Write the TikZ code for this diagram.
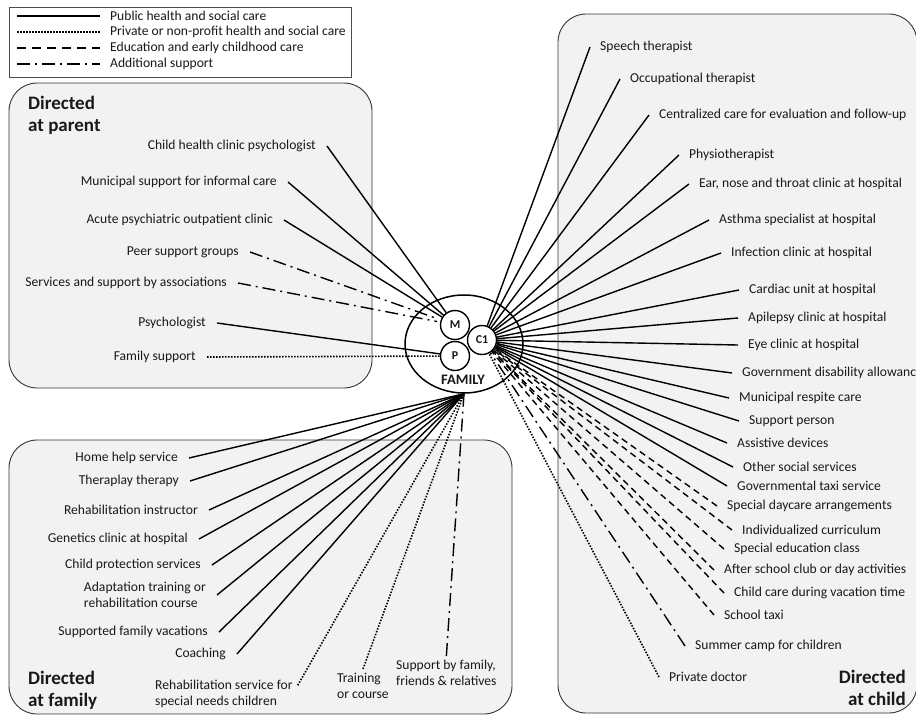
\documentclass[tikz,border=0pt]{standalone}
\usepackage{fontspec}
\setmainfont{Carlito}
\usetikzlibrary{shapes.geometric}
\begin{document}
\begin{tikzpicture}[x=1pt,y=-1pt,
  every node/.style={font=\fontsize{13.6}{15.5}\selectfont, text=black!90},
  lblE/.style={anchor=east, inner xsep=11pt, inner ysep=1pt},
  lblW/.style={anchor=west, inner xsep=10pt, inner ysep=1pt},
  conn/.style={line width=1.4pt, line cap=butt},
  pub/.style={conn},
  priv/.style={conn, line width=1.6pt, dash pattern=on 1.5pt off 1.5pt},
  edu/.style={conn, dash pattern=on 6.5pt off 4.5pt},
  addl/.style={conn, dash pattern=on 13pt off 5pt on 2pt off 5pt},
  area/.style={draw=black!80, fill=black!5, line width=0.9pt, rounded corners=28pt},
  head/.style={font=\fontsize{19}{22}\selectfont\bfseries, inner sep=0pt, align=left},
  circ/.style={circle, draw, line width=1.4pt, fill=white, minimum size=29pt, inner sep=0pt, font=\fontsize{12}{13}\selectfont\bfseries},
  legtext/.style={anchor=west, inner sep=0pt, font=\fontsize{13.6}{15}\selectfont}
]
\fill[white] (0,0) rectangle (916,715);
\useasboundingbox (0,0) rectangle (916,715);

% areas
\draw[area] (9,83) rectangle (372,388);
\draw[area] (558,14) rectangle (917,713);
\draw[area] (9,440) rectangle (512,714);

% legend
\draw[black!70, line width=0.8pt] (9,7) rectangle (351,77);
\draw[pub, line width=1.8pt] (17,16) -- (100,16);
\draw[priv, line width=1.5pt] (17,32) -- (100,32);
\draw[edu, line width=1.8pt, dash pattern=on 9pt off 6pt] (17,48) -- (100,48);
\draw[addl, line width=1.8pt] (17,64) -- (100,64);
\node[legtext] (lg1) at (110,16) {Public health and social care};
\node[legtext] (lg2) at (110,32) {Private or non-profit health and social care};
\node[legtext] (lg3) at (110,48) {Education and early childhood care};
\node[legtext] (lg4) at (110,64) {Additional support};

% headings
\node[head, anchor=north west] (hpar) at (28,96) {Directed\\at parent};
\node[head, anchor=south west] (hfam) at (28,710) {Directed\\at family};
\node[head, anchor=south east, align=right] (hchi) at (906,706) {Directed\\at child};

% family
\node[ellipse, draw, line width=1.5pt, minimum width=118pt, minimum height=98pt, inner sep=0pt] (fam) at (464,344) {};
\node[inner sep=0pt, font=\fontsize{14.5}{15}\selectfont\bfseries] (famt) at (463,380) {FAMILY};
\node[circ] (m) at (455,325) {M};
\node[circ] (p) at (455,356) {P};
\node[circ] (c) at (482,340) {C1};

% parent labels
\node[lblE] (cp) at (327,146) {Child health clinic psychologist};
\node[lblE] (ms) at (288,182) {Municipal support for informal care};
\node[lblE] (ap) at (284,220) {Acute psychiatric outpatient clinic};
\node[lblE] (ps) at (250,252) {Peer support groups};
\node[lblE] (sa) at (238,283) {Services and support by associations};
\node[lblE] (py) at (217,323) {Psychologist};
\node[lblE] (fs) at (207,357) {Family support};
\draw[pub] (cp.east) -- (m);
\draw[pub] (ms.east) -- (m);
\draw[pub] (ap.east) -- (m);
\draw[addl, shorten >=3pt] (ps.east) -- (m);
\draw[addl, shorten >=3pt] (sa.east) -- (m);
\draw[pub] (py.east) -- (p);
\draw[priv] (fs.east) -- (p);

% child labels
\node[lblW] (st) at (590,47) {Speech therapist};
\node[lblW] (ot) at (620,79) {Occupational therapist};
\node[lblW] (cc) at (649,115) {Centralized care for evaluation and follow-up};
\node[lblW] (ph) at (679,155) {Physiotherapist};
\node[lblW] (en) at (689,184) {Ear, nose and throat clinic at hospital};
\node[lblW] (ah) at (709,220) {Asthma specialist at hospital};
\node[lblW] (ic) at (721,253) {Infection clinic at hospital};
\node[lblW] (cu) at (739,290) {Cardiac unit at hospital};
\node[lblW] (ac) at (738,318) {Apilepsy clinic at hospital};
\node[lblW] (ec) at (738,345) {Eye clinic at hospital};
\node[lblW] (gd) at (732,373) {Government disability allowanc};
\node[lblW] (mr) at (729,398) {Municipal respite care};
\node[lblW] (sp) at (739,421) {Support person};
\node[lblW] (ad) at (727,443) {Assistive devices};
\node[lblW] (os) at (733,467) {Other social services};
\node[lblW] (gt) at (727,486) {Governmental taxi service};
\node[lblW] (sd) at (717,506) {Special daycare arrangements};
\node[lblW] (iu) at (732,530) {Individualized curriculum};
\node[lblW] (se) at (724,549) {Special education class};
\node[lblW] (ak) at (714,570) {After school club or day activities};
\node[lblW] (cv) at (724,593) {Child care during vacation time};
\node[lblW] (sx) at (714,615) {School taxi};
\node[lblW] (sc) at (685,646) {Summer camp for children};
\node[lblW] (pd) at (659,677) {Private doctor};
\foreach \n in {st,ot,cc,ph,en,ah,ic,cu,ac,ec,gd,mr,sp,ad,os,gt}
  \draw[pub] (\n.west) -- (c);
\foreach \n in {sd,iu,se,ak,cv,sx}
  \draw[edu] (\n.west) -- (c);
\draw[addl] (sc.west) -- (c);
\draw[priv] (pd.west) -- (c);

% family labels
\node[lblE] (hh) at (189,458) {Home help service};
\node[lblE] (tt) at (190,481) {Theraplay therapy};
\node[lblE] (ri) at (209,510) {Rehabilitation instructor};
\node[lblE] (gc) at (199,539) {Genetics clinic at hospital};
\node[lblE] (cps) at (212,565) {Child protection services};
\node[lblE, align=left] (at) at (217,595) {Adaptation training or\\rehabilitation course};
\node[lblE] (sv) at (219,632) {Supported family vacations};
\node[lblE] (co) at (237,654) {Coaching};
\node[anchor=west, align=left, inner xsep=0pt, inner ysep=1pt] (rs) at (155,694) {Rehabilitation service for\\special needs children};
\node[anchor=north west, align=left, inner xsep=0pt, inner ysep=4pt] (tc) at (337,669) {Training\\or course};
\node[anchor=north west, align=left, inner xsep=0pt, inner ysep=4pt] (sf) at (396,656) {Support by family,\\friends \& relatives};
\foreach \n in {hh,tt,ri,gc,cps,at,sv,co}
  \draw[pub] (\n.east) -- (fam.south);
\draw[priv, shorten <=10pt] (rs.east) -- (fam.south);
\draw[priv] (tc.north) -- (fam.south);
\draw[addl] (sf.north) -- (fam.south);
\end{tikzpicture}
\end{document}
